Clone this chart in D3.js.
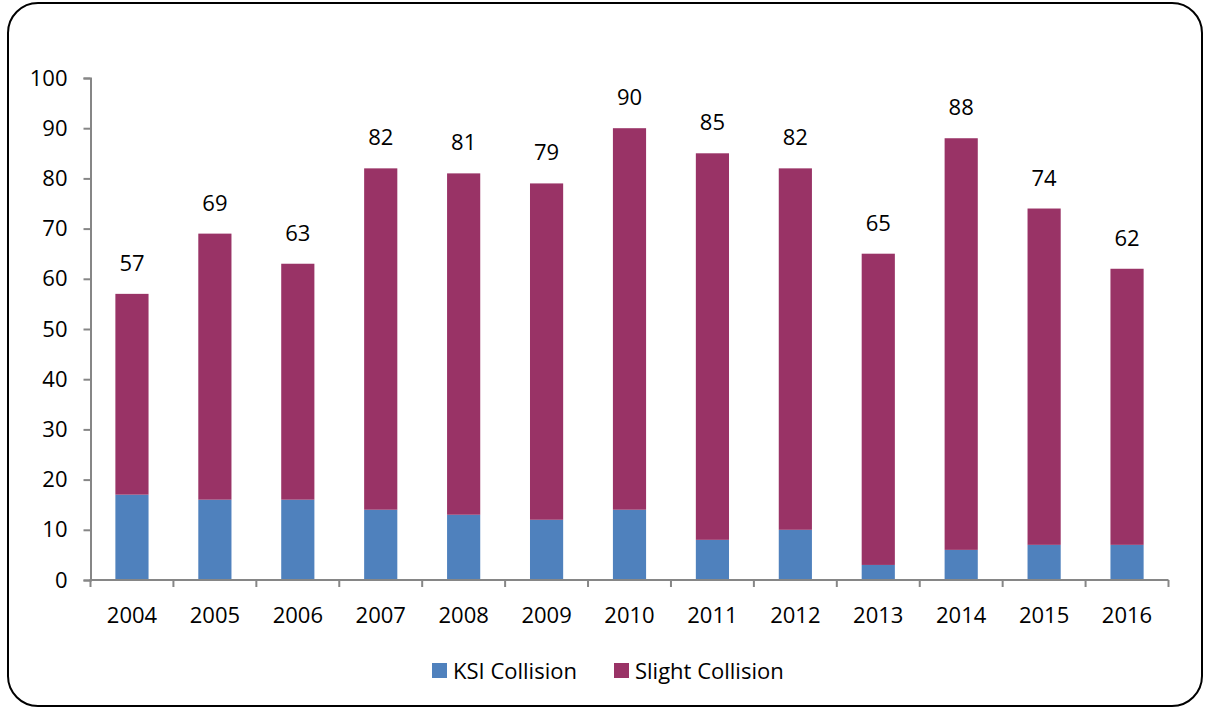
<!DOCTYPE html>
<html>
<head>
<meta charset="utf-8">
<script src="https://cdn.jsdelivr.net/npm/d3@7"></script>
<style>
body { margin: 0; background: #fff; }
svg text { font-family: "Open Sans", "Noto Sans", sans-serif; fill: #000; }
</style>
</head>
<body>
<svg id="chart" width="1205" height="709"></svg>
<script>
var years = ["2004","2005","2006","2007","2008","2009","2010","2011","2012","2013","2014","2015","2016"];
var ksi = [17, 16, 16, 14, 13, 12, 14, 8, 10, 3, 6, 7, 7];
var totals = [57, 69, 63, 82, 81, 79, 90, 85, 82, 65, 88, 74, 62];
var slight = totals.map(function(t, i){ return t - ksi[i]; });
var yTicks = [0, 10, 20, 30, 40, 50, 60, 70, 80, 90, 100];
var seriesNames = ["KSI Collision", "Slight Collision"];
var colors = ["#4F81BD", "#993366"];

var svg = d3.select('#chart');
var axisColor = '#868686';
var fontSize = '22px';

// rounded frame
svg.append('rect')
	.attr('x', 8).attr('y', 3)
	.attr('width', 1194).attr('height', 703)
	.attr('rx', 30).attr('ry', 30)
	.attr('fill', 'none')
	.attr('stroke', '#000')
	.attr('stroke-width', 2);

var plotLeft = 90.5, plotRight = 1168.5, plotTop = 78, plotBottom = 580;

var x = d3.scaleBand().domain(years).range([plotLeft, plotRight]).paddingInner(0.6).paddingOuter(0.3);
var y = d3.scaleLinear().domain([0, 100]).range([plotBottom, plotTop]);

var rows = years.map(function(yr, i){ return {year: yr, ksi: ksi[i], slight: slight[i], total: totals[i]}; });
var stacked = d3.stack().keys(["ksi", "slight"])(rows);

svg.append('g').selectAll('g')
	.data(stacked)
	.join('g')
		.attr('fill', function(d, i){ return colors[i]; })
	.selectAll('rect')
	.data(function(d){ return d; })
	.join('rect')
		.attr('x', function(d){ return x(d.data.year); })
		.attr('y', function(d){ return y(d[1]); })
		.attr('width', x.bandwidth())
		.attr('height', function(d){ return y(d[0]) - y(d[1]); });

// y axis
var yAxis = svg.append('g')
	.attr('transform', `translate(${plotLeft}, 0)`)
	.call(d3.axisLeft(y).tickValues(yTicks).tickSize(7).tickPadding(16));
yAxis.selectAll('text').style('font-size', fontSize).attr('fill', '#000');
yAxis.select('.domain').attr('stroke', axisColor).attr('stroke-width', 2);
yAxis.selectAll('.tick line').attr('stroke', axisColor).attr('stroke-width', 2);

// x axis with ticks at band boundaries
var xAxis = svg.append('g')
	.attr('transform', `translate(0, ${plotBottom})`);
xAxis.append('line')
	.attr('x1', plotLeft - 1).attr('x2', plotRight)
	.attr('stroke', axisColor).attr('stroke-width', 2);
var step = (plotRight - plotLeft) / years.length;
xAxis.selectAll('line.tk')
	.data(d3.range(years.length + 1))
	.join('line')
		.attr('class', 'tk')
		.attr('x1', function(i){ return plotLeft + i * step; })
		.attr('x2', function(i){ return plotLeft + i * step; })
		.attr('y1', 0).attr('y2', 7)
		.attr('stroke', axisColor).attr('stroke-width', 2);
xAxis.selectAll('text')
	.data(years)
	.join('text')
		.attr('x', function(d){ return x(d) + x.bandwidth() / 2; })
		.attr('y', 43)
		.attr('text-anchor', 'middle')
		.style('font-size', fontSize)
		.text(function(d){ return d; });

// totals above bars
svg.append('g').selectAll('text')
	.data(rows)
	.join('text')
		.attr('x', function(d){ return x(d.year) + x.bandwidth() / 2; })
		.attr('y', function(d){ return y(d.total) - 23; })
		.attr('text-anchor', 'middle')
		.style('font-size', fontSize)
		.text(function(d){ return d.total; });

// legend
var legendX = [432, 614];
var legend = svg.append('g').selectAll('g')
	.data(seriesNames)
	.join('g')
		.attr('transform', function(d, i){ return `translate(${legendX[i]}, 663)`; });
legend.append('rect')
	.attr('width', 15).attr('height', 15)
	.attr('fill', function(d, i){ return colors[i]; });
legend.append('text')
	.attr('x', 21).attr('y', 16)
	.style('font-size', fontSize)
	.text(function(d){ return d; });
</script>
</body>
</html>
